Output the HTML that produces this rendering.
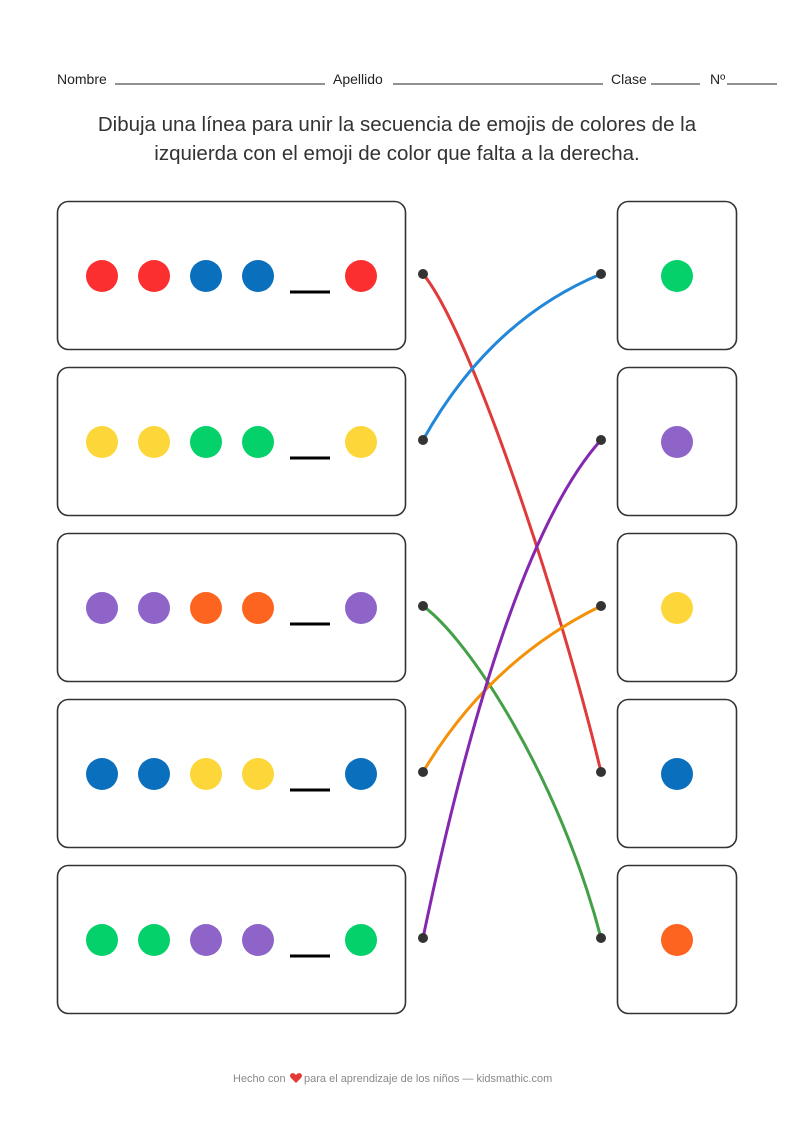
<!DOCTYPE html>
<html><head><meta charset="utf-8"><style>
html,body{margin:0;padding:0;background:#fff}
body{width:794px;height:1123px;position:relative;overflow:hidden;font-family:"Liberation Sans",sans-serif}
</style></head><body>
<svg width="794" height="1123" style="position:absolute;left:0;top:0" xmlns="http://www.w3.org/2000/svg">
<g font-family="Liberation Sans, sans-serif" fill="#222">
<text x="57" y="84" font-size="14">Nombre</text>
<line x1="115" y1="84" x2="325" y2="84" stroke="#222" stroke-width="1"/>
<text x="333" y="84" font-size="14">Apellido</text>
<line x1="393" y1="84" x2="603" y2="84" stroke="#222" stroke-width="1"/>
<text x="611" y="84" font-size="14">Clase</text>
<line x1="651" y1="84" x2="700" y2="84" stroke="#222" stroke-width="1"/>
<text x="710" y="84" font-size="14">Nº</text>
<line x1="727" y1="84" x2="777" y2="84" stroke="#222" stroke-width="1"/>
<text x="397" y="131" font-size="20.5" text-anchor="middle" fill="#333">Dibuja una línea para unir la secuencia de emojis de colores de la</text>
<text x="397" y="160" font-size="20.5" text-anchor="middle" fill="#333">izquierda con el emoji de color que falta a la derecha.</text>
</g>
<g fill="#fff" stroke="#333" stroke-width="1.6">
<rect x="57.5" y="201.5" width="348" height="148" rx="11"/>
<rect x="57.5" y="367.5" width="348" height="148" rx="11"/>
<rect x="57.5" y="533.5" width="348" height="148" rx="11"/>
<rect x="57.5" y="699.5" width="348" height="148" rx="11"/>
<rect x="57.5" y="865.5" width="348" height="148" rx="11"/>
<rect x="617.5" y="201.5" width="119" height="148" rx="11"/>
<rect x="617.5" y="367.5" width="119" height="148" rx="11"/>
<rect x="617.5" y="533.5" width="119" height="148" rx="11"/>
<rect x="617.5" y="699.5" width="119" height="148" rx="11"/>
<rect x="617.5" y="865.5" width="119" height="148" rx="11"/>
</g>
<g>
<circle cx="102" cy="276" r="16" fill="#fb2f2f"/><circle cx="154" cy="276" r="16" fill="#fb2f2f"/><circle cx="206" cy="276" r="16" fill="#0a6fbd"/><circle cx="258" cy="276" r="16" fill="#0a6fbd"/><circle cx="361" cy="276" r="16" fill="#fb2f2f"/>
<circle cx="102" cy="442" r="16" fill="#fdd73a"/><circle cx="154" cy="442" r="16" fill="#fdd73a"/><circle cx="206" cy="442" r="16" fill="#05d16b"/><circle cx="258" cy="442" r="16" fill="#05d16b"/><circle cx="361" cy="442" r="16" fill="#fdd73a"/>
<circle cx="102" cy="608" r="16" fill="#8e64c9"/><circle cx="154" cy="608" r="16" fill="#8e64c9"/><circle cx="206" cy="608" r="16" fill="#fd6420"/><circle cx="258" cy="608" r="16" fill="#fd6420"/><circle cx="361" cy="608" r="16" fill="#8e64c9"/>
<circle cx="102" cy="774" r="16" fill="#0a6fbd"/><circle cx="154" cy="774" r="16" fill="#0a6fbd"/><circle cx="206" cy="774" r="16" fill="#fdd73a"/><circle cx="258" cy="774" r="16" fill="#fdd73a"/><circle cx="361" cy="774" r="16" fill="#0a6fbd"/>
<circle cx="102" cy="940" r="16" fill="#05d16b"/><circle cx="154" cy="940" r="16" fill="#05d16b"/><circle cx="206" cy="940" r="16" fill="#8e64c9"/><circle cx="258" cy="940" r="16" fill="#8e64c9"/><circle cx="361" cy="940" r="16" fill="#05d16b"/>
</g>
<g stroke="#000" stroke-width="3">
<line x1="290" y1="292" x2="330" y2="292"/><line x1="290" y1="458" x2="330" y2="458"/><line x1="290" y1="624" x2="330" y2="624"/><line x1="290" y1="790" x2="330" y2="790"/><line x1="290" y1="956" x2="330" y2="956"/>
</g>
<g>
<circle cx="677" cy="276" r="16" fill="#05d16b"/>
<circle cx="677" cy="442" r="16" fill="#8e64c9"/>
<circle cx="677" cy="608" r="16" fill="#fdd73a"/>
<circle cx="677" cy="774" r="16" fill="#0a6fbd"/>
<circle cx="677" cy="940" r="16" fill="#fd6420"/>
</g>
<g fill="none" stroke-width="3" stroke-linecap="round">
<path d="M423,274 C470,330 560,600 601,772" stroke="#e03a3a"/>
<path d="M423,440 Q490,320 601,274" stroke="#2287d9"/>
<path d="M423,606 C470,640 560,780 601,938" stroke="#43a047"/>
<path d="M423,772 Q490,660 601,606" stroke="#f39208"/>
<path d="M423,938 C460,760 520,530 601,440" stroke="#8527b0"/>
</g>
<g fill="#333">
<circle cx="423" cy="274" r="5"/><circle cx="423" cy="440" r="5"/><circle cx="423" cy="606" r="5"/><circle cx="423" cy="772" r="5"/><circle cx="423" cy="938" r="5"/>
<circle cx="601" cy="274" r="5"/><circle cx="601" cy="440" r="5"/><circle cx="601" cy="606" r="5"/><circle cx="601" cy="772" r="5"/><circle cx="601" cy="938" r="5"/>
</g>
<g font-family="Liberation Sans, sans-serif" font-size="11" fill="#888">
<text x="233" y="1082">Hecho con</text>
<path d="M296,1075 c-3,-4 -8,-1 -5,3 l5,5 l5,-5 c3,-4 -2,-7 -5,-3z" fill="#e53935"/>
<text x="304" y="1082">para el aprendizaje de los niños — kidsmathic.com</text>
</g>
</svg>
</body></html>
